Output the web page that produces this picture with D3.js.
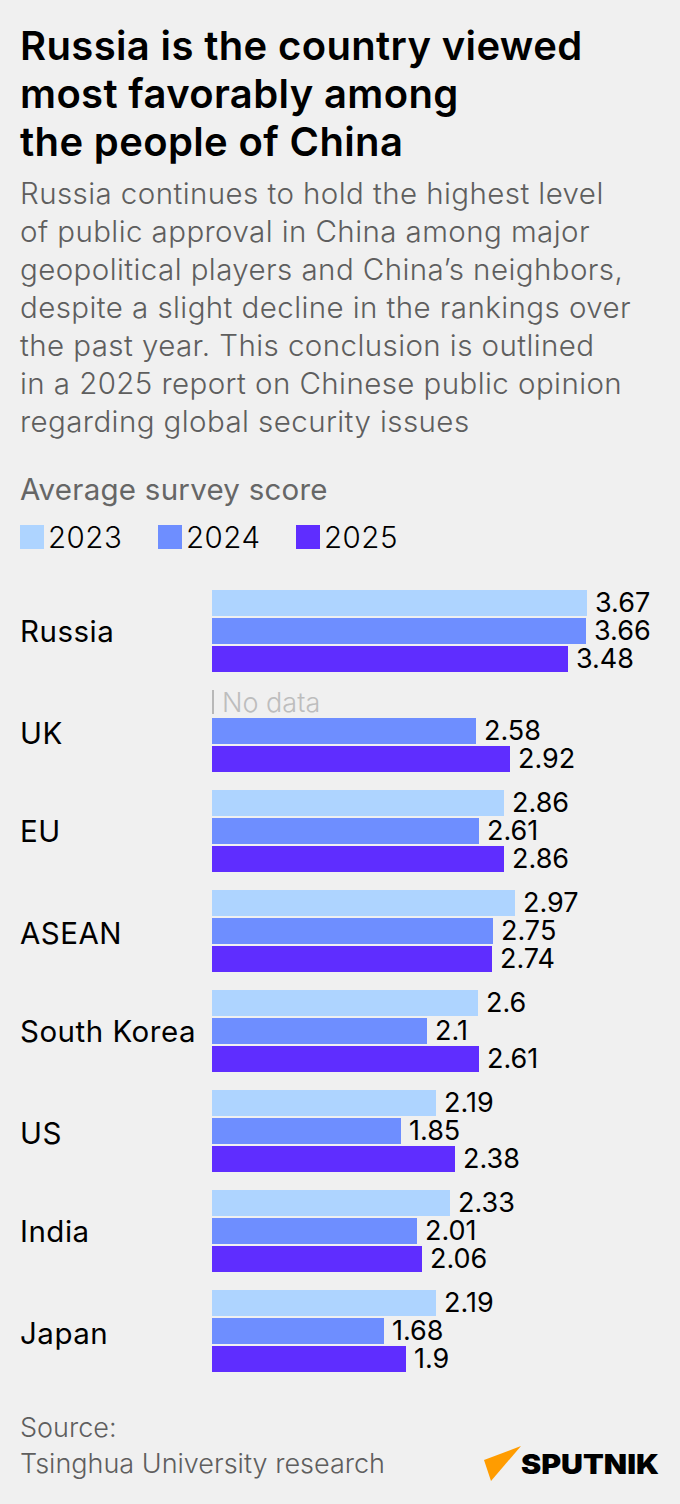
<!DOCTYPE html>
<html>
<head>
<meta charset="utf-8">
<script src="https://cdn.jsdelivr.net/npm/d3@7"></script>
<style>
  html, body { margin: 0; padding: 0; background: #f0f0f0; }
  text { font-family: Inter, sans-serif; }
</style>
</head>
<body>
<div class="chart"></div>
<script>
var titleLines = ["Russia is the country viewed", "most favorably among", "the people of China"];
var subtitleLines = [
  "Russia continues to hold the highest level",
  "of public approval in China among major",
  "geopolitical players and China\u2019s neighbors,",
  "despite a slight decline in the rankings over",
  "the past year. This conclusion is outlined",
  "in a 2025 report on Chinese public opinion",
  "regarding global security issues"
];
var sourceLines = ["Source:", "Tsinghua University research"];

var countries = ["Russia", "UK", "EU", "ASEAN", "South Korea", "US", "India", "Japan"];
var years = ["2023", "2024", "2025"];
var colors = ["#aed4ff", "#6e8eff", "#5f2dff"];
var values2023 = [3.67, null, 2.86, 2.97, 2.6, 2.19, 2.33, 2.19];
var values2024 = [3.66, 2.58, 2.61, 2.75, 2.1, 1.85, 2.01, 1.68];
var values2025 = [3.48, 2.92, 2.86, 2.74, 2.61, 2.38, 2.06, 1.9];
var series = [values2023, values2024, values2025];

var svg = d3.select(".chart").append("svg")
  .attr("width", 680)
  .attr("height", 1504)
  .style("display", "block");

// heading
svg.selectAll(".title").data(titleLines).enter().append("text")
  .attr("x", 20).attr("y", function (d, i) { return 60 + i * 48; })
  .attr("font-size", 40).attr("font-weight", 600).attr("fill", "#000")
  .attr("letter-spacing", 0.36)
  .text(function (d) { return d; });

svg.selectAll(".sub").data(subtitleLines).enter().append("text")
  .attr("x", 20).attr("y", function (d, i) { return 204 + i * 38; })
  .attr("font-size", 29.5).attr("font-weight", 300).attr("fill", "#5e5e5e")
  .attr("letter-spacing", 0.42)
  .text(function (d) { return d; });

svg.append("text").attr("x", 20).attr("y", 500)
  .attr("font-size", 29.5).attr("font-weight", 400).attr("fill", "#666")
  .attr("letter-spacing", 0.25)
  .text("Average survey score");

// legend
var legend = svg.selectAll(".legend").data(years).enter().append("g")
  .attr("transform", function (d, i) { return "translate(" + (20 + i * 138) + ",525)"; });
legend.append("rect").attr("width", 24).attr("height", 24)
  .attr("fill", function (d, i) { return colors[i]; });
legend.append("text").attr("x", 28).attr("y", 23)
  .attr("font-size", 29.5).attr("font-weight", 300).attr("fill", "#000")
  .attr("letter-spacing", 0.5)
  .text(function (d) { return d; });

// scales
var x = d3.scaleLinear().domain([0, 3.67]).rangeRound([212, 587]);
var y0 = d3.scaleBand().domain(countries).range([590, 1390]).paddingInner(0);
var y1 = d3.scaleBand().domain(years).range([0, 84]);

var groups = svg.selectAll(".group").data(countries).enter().append("g")
  .attr("transform", function (d) { return "translate(0," + y0(d) + ")"; });

// every second label sits a little lower in the original
groups.append("text")
  .attr("x", 20).attr("y", function (d, i) { return 52 + (i % 2) * 2; })
  .attr("font-size", 29.5).attr("font-weight", 400).attr("fill", "#000")
  .attr("letter-spacing", 0.5)
  .text(function (d) { return d; });

years.forEach(function (yr, s) {
  var rows = countries.map(function (c, i) { return { c: c, v: series[s][i] }; });
  var withData = rows.filter(function (d) { return d.v !== null; });
  svg.selectAll(".bar" + yr).data(withData).enter().append("rect")
    .attr("x", x(0))
    .attr("y", function (d) { return y0(d.c) + y1(yr); })
    .attr("width", function (d) { return x(d.v) - x(0); })
    .attr("height", 26)
    .attr("fill", colors[s]);
  svg.selectAll(".val" + yr).data(withData).enter().append("text")
    .attr("x", function (d) { return x(d.v) + 8; })
    .attr("y", function (d) { return y0(d.c) + y1(yr) + 22; })
    .attr("font-size", 27).attr("font-weight", 400).attr("fill", "#000")
    .text(function (d) { return d.v; });
  var missing = rows.filter(function (d) { return d.v === null; });
  svg.selectAll(".tick" + yr).data(missing).enter().append("rect")
    .attr("x", x(0)).attr("y", function (d) { return y0(d.c) + y1(yr); })
    .attr("width", 2).attr("height", 24).attr("fill", "#b8b8b8");
  svg.selectAll(".nodata" + yr).data(missing).enter().append("text")
    .attr("x", x(0) + 10).attr("y", function (d) { return y0(d.c) + y1(yr) + 22; })
    .attr("font-size", 27).attr("font-weight", 300).attr("fill", "#bdbdbd")
    .text("No data");
});

// source
svg.selectAll(".source").data(sourceLines).enter().append("text")
  .attr("x", 20).attr("y", function (d, i) { return 1437 + i * 36; })
  .attr("font-size", 27).attr("font-weight", 300).attr("fill", "#5e5e5e")
  .text(function (d) { return d; });

// logo
svg.append("path").attr("d", "M484 1460L521 1446L491 1481Z").attr("fill", "#ff9c00");
svg.append("text").attr("x", 521).attr("y", 1474)
  .attr("font-size", 27).attr("font-weight", 900).attr("fill", "#000")
  .attr("textLength", 138).attr("lengthAdjust", "spacingAndGlyphs")
  .text("SPUTNIK");
</script>
</body>
</html>
